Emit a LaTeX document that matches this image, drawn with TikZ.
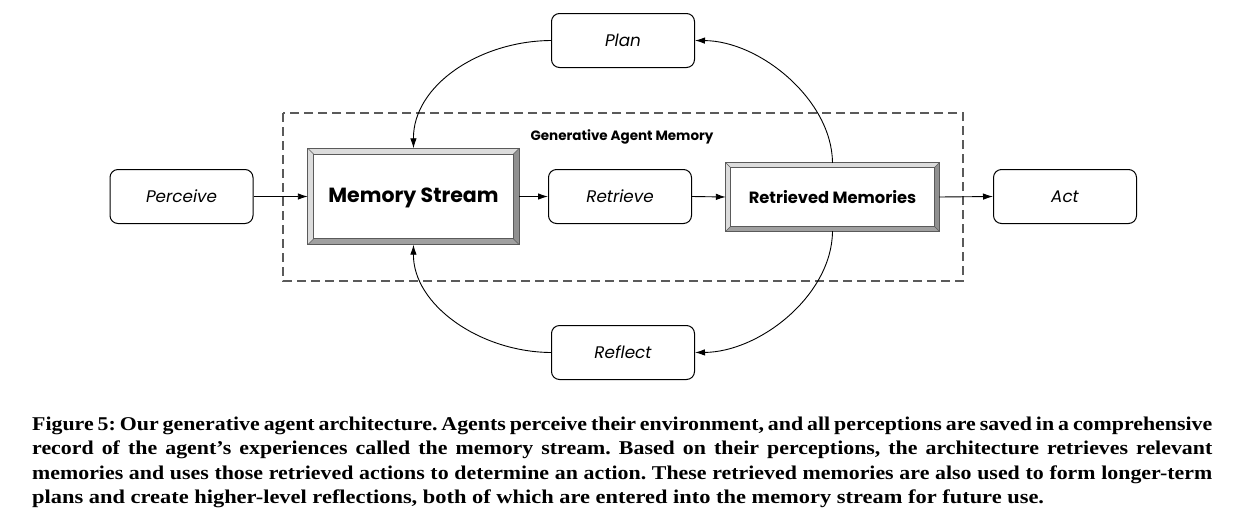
\documentclass[tikz,border=0pt]{standalone}
\usepackage{fontspec}
\setmainfont{Liberation Serif}
\newfontfamily\popp{Poppins}
\newfontfamily\capfont{Liberation Serif}[FakeStretch=1.15]
\usetikzlibrary{arrows.meta,calc}
\definecolor{bvlight}{HTML}{DCDCDC}
\definecolor{bvdark}{HTML}{A0A0A0}
\definecolor{bvline}{HTML}{5A5A5A}
\definecolor{dashgray}{HTML}{5A5A5A}
\tikzset{
  rbox/.style={draw, line width=1pt, rounded corners=8pt, minimum width=143pt, minimum height=54pt, inner sep=0pt, font=\popp\itshape\fontsize{16.8}{18}\selectfont},
  bvbox/.style={inner sep=0pt},
  conn/.style={line width=0.9pt, -{Latex[length=10pt,width=6.5pt]}},
  capline/.style={anchor=base west, inner sep=0pt, font=\capfont\bfseries\fontsize{19.5}{21}\selectfont\frenchspacing}
}
\newcommand{\bevelit}[2]{%
  \fill[bvlight] (#1.north west) -- (#1.north east) -- ([shift={(-#2,#2)}]#1.north east) -- ([shift={(#2,#2)}]#1.north west) -- cycle;
  \fill[bvlight] (#1.north west) -- ([shift={(#2,#2)}]#1.north west) -- ([shift={(#2,-#2)}]#1.south west) -- (#1.south west) -- cycle;
  \fill[bvdark] (#1.south west) -- ([shift={(#2,-#2)}]#1.south west) -- ([shift={(-#2,-#2)}]#1.south east) -- (#1.south east) -- cycle;
  \fill[bvdark!90!black] (#1.north east) -- (#1.south east) -- ([shift={(-#2,-#2)}]#1.south east) -- ([shift={(-#2,#2)}]#1.north east) -- cycle;
  \draw[bvline, line width=0.8pt] (#1.north west) rectangle (#1.south east);
  \draw[bvline, line width=0.8pt] ([shift={(#2,#2)}]#1.north west) rectangle ([shift={(-#2,-#2)}]#1.south east);
  \draw[bvline, line width=0.6pt] (#1.north west) -- ([shift={(#2,#2)}]#1.north west)
     (#1.north east) -- ([shift={(-#2,#2)}]#1.north east)
     (#1.south west) -- ([shift={(#2,-#2)}]#1.south west)
     (#1.south east) -- ([shift={(-#2,-#2)}]#1.south east);
}
\newcommand{\jline}[1]{\scalebox{0.975}[1]{\makebox[1210.3pt][s]{#1}}}
\begin{document}
\begin{tikzpicture}[x=1pt,y=-1pt]
\useasboundingbox (0,0) rectangle (1251,523);
\fill[white] (0,0) rectangle (1251,523);
% dashed container
\draw[dashgray, line width=1.6pt, dash pattern=on 9pt off 5pt] (283,113) rectangle (963,281);
\node[font=\popp\bfseries\fontsize{13.5}{15}\selectfont, inner sep=0pt] (gam) at (622,137) {Generative Agent Memory};
% boxes
\node[rbox] (perc) at (181.5,196.5) {Perceive};
\node[rbox] (retr) at (620,196.5) {Retrieve};
\node[rbox] (act) at (1065,196.5) {Act};
\node[rbox] (plan) at (623,40.5) {Plan};
\node[rbox] (refl) at (623,352.5) {Reflect};
\node[bvbox, minimum width=211pt, minimum height=96pt] (ms) at (413.5,196.5) {};
\bevelit{ms}{6}
\node[font=\popp\bfseries\fontsize{20.5}{22}\selectfont, inner sep=0pt] (mst) at (413.5,197.5) {Memory Stream};
\node[bvbox, minimum width=213pt, minimum height=68pt] (rm) at (832.5,197) {};
\bevelit{rm}{5}
\node[font=\popp\bfseries\fontsize{16.3}{18}\selectfont, inner sep=0pt] (rmt) at (832.5,197) {Retrieved Memories};
% connectors
\draw[conn] (perc.east) -- (ms.west);
\draw[conn] (ms.east) -- (retr.west);
\draw[conn] (retr.east) -- (rm.west);
\draw[conn] (rm.east) -- (act.west);
\draw[conn] (rm.north) .. controls (832,100) and (760,41) .. (plan.east);
\draw[conn] (plan.west) .. controls (480,41) and (413,85) .. (ms.north);
\draw[conn] (rm.south) .. controls (832,295) and (760,352) .. (refl.east);
\draw[conn] (refl.west) .. controls (480,352) and (413,305) .. (ms.south);
% caption
\node[capline] (c1) at (32,430) {\jline{Figure 5: Our generative agent architecture. Agents perceive their environment, and all perceptions are saved in a comprehensive}};
\node[capline] (c2) at (32,454.5) {\jline{record of the agent’s experiences called the memory stream. Based on their perceptions, the architecture retrieves relevant}};
\node[capline] (c3) at (32,479) {\jline{memories and uses those retrieved actions to determine an action. These retrieved memories are also used to form longer-term}};
\node[capline] (c4) at (32,503.5) {plans and create higher-level reflections, both of which are entered into the memory stream for future use.};
\end{tikzpicture}
\end{document}
